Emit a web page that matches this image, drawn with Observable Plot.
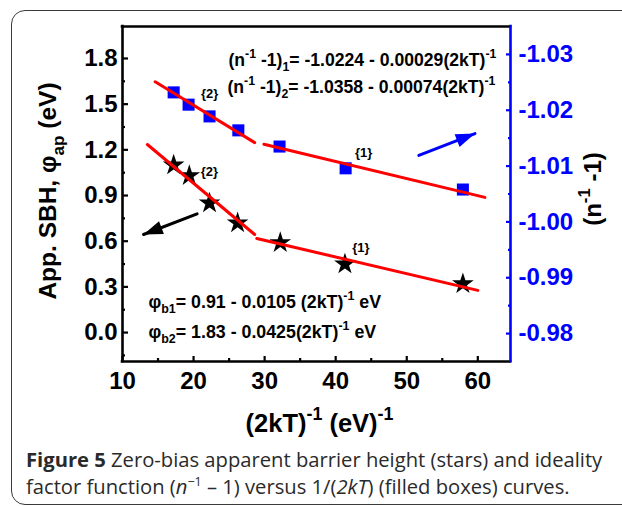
<!DOCTYPE html>
<html><head><meta charset="utf-8">
<script src="https://cdn.jsdelivr.net/npm/d3@7"></script>
<script src="https://cdn.jsdelivr.net/npm/@observablehq/plot@0.6"></script>
<style>
html,body{margin:0;padding:0;background:#fff;width:622px;height:506px;overflow:hidden;}
#wrap{position:relative;width:622px;height:506px;overflow:hidden;}
#border{position:absolute;left:11px;top:10px;width:680px;height:493px;border:1.5px solid #3a3a3a;border-radius:14px;}
#chart{position:absolute;left:0;top:0;}
#caption{position:absolute;left:26px;top:446px;font-family:"Open Sans",sans-serif;font-size:20.2px;line-height:27px;color:#2a2a2a;white-space:nowrap;}
#caption sup{font-size:12.5px;line-height:0;}
</style></head>
<body><div id="wrap"><div id="border"></div><div id="chart"></div>
<div id="caption"><b>Figure 5</b> Zero-bias apparent barrier height (stars) and ideality<br>factor function (<i>n</i><sup>−1</sup> – 1) versus 1/(<i>2kT</i>) (filled boxes) curves.</div></div>
<script>
// ---- data ----
const starX = [17.2, 19.4, 22.25, 26.2, 32.2, 41.3, 57.9];
const starSBH = [1.10, 1.03, 0.85, 0.72, 0.59, 0.45, 0.32];
const boxX = [17.2, 19.3, 22.25, 26.3, 32.1, 41.4, 57.9];
const boxN = [-1.0232, -1.0210, -1.0189, -1.0164, -1.0135, -1.0096, -1.0058];
// fitted red lines (end points)
const sbhFit1X = [28.9, 60.0], sbhFit1Y = [0.618, 0.277];
const sbhFit2X = [13.5, 28.6], sbhFit2Y = [1.235, 0.644];
const nFit1X = [29.9, 61.0], nFit1Y = [-1.0139, -1.0044];
const nFit2X = [14.6, 28.6], nFit2Y = [-1.0251, -1.0142];
// arrows: [start, tip]
const arrowSbhX = [20.5, 12.96], arrowSbhY = [0.78, 0.644];
const arrowNX = [51.7, 59.6], arrowNY = [1.163, 1.307];
// axes
const xDomain = [10, 64.6];
const yDomain = [-0.19, 2.01];
const nDomain = [-1.035, -0.975];
const xTicks = [10, 20, 30, 40, 50, 60];
const xMinor = [15, 25, 35, 45, 55];
const yTicks = [0.0, 0.3, 0.6, 0.9, 1.2, 1.5, 1.8];
const yMinor = [-0.15, 0.15, 0.45, 0.75, 1.05, 1.35, 1.65];
const nTicks = [-1.03, -1.02, -1.01, -1.00, -0.99, -0.98];
const nMinor = [-1.025, -1.015, -1.005, -0.995, -0.985];
const eqTop = ["(n^{-1} -1)_{1}= -1.0224 - 0.00029(2kT)^{-1}", "(n^{-1} -1)_{2}= -1.0358 - 0.00074(2kT)^{-1}"];
const eqBottom = ["φ_{b1}= 0.91 - 0.0105 (2kT)^{-1} eV", "φ_{b2}= 1.83 - 0.0425(2kT)^{-1} eV"];

// right axis value -> left axis units
const conv = d3.scaleLinear().domain(nDomain).range([yDomain[1], yDomain[0]]);
const BLUE = "#0000ff", RED = "#ff0000";
const FONT = "'Liberation Sans', Arial, sans-serif";

const head = {draw(ctx, size) { const r = Math.sqrt(size / Math.PI); const L = 2.4 * r, w = 0.85 * r;
  ctx.moveTo(0, 0); ctx.lineTo(w, L); ctx.lineTo(-w, L); ctx.closePath(); }};

const stars = starX.map((x, i) => ({x, y: starSBH[i]}));
const boxes = boxX.map((x, i) => ({x, y: conv(boxN[i])}));
const seg = (X, Y, f = d => d) => X.map((x, i) => ({x, y: f(Y[i])}));

const plot = Plot.plot({
  width: 622, height: 440,
  marginLeft: 122, marginRight: 112, marginTop: 26, marginBottom: 79,
  x: {domain: xDomain}, y: {domain: yDomain},
  style: {fontFamily: FONT, fontWeight: "bold", background: "transparent", overflow: "visible"},
  marks: [
    // axes
    Plot.axisX({ticks: xTicks, label: null, tickSize: -5, tickPadding: 15, tickFormat: d => String(d), fontSize: 24, strokeWidth: 2.2}),
    Plot.axisX({ticks: xMinor, label: null, tickSize: -3, tickFormat: () => "", strokeWidth: 2.2}),
    Plot.axisY({ticks: yTicks, label: null, tickSize: -6, tickPadding: 11, tickFormat: d => d.toFixed(1), fontSize: 24, strokeWidth: 2.2}),
    Plot.axisY({ticks: yMinor, label: null, tickSize: -3, tickFormat: () => "", strokeWidth: 2.2}),
    Plot.axisY({anchor: "right", label: null, ticks: nTicks.map(conv), tickSize: -5, tickPadding: 13, color: BLUE,
      tickFormat: d => conv.invert(d).toFixed(2), fontSize: 24, strokeWidth: 2.2}),
    Plot.axisY({anchor: "right", label: null, ticks: nMinor.map(conv), tickSize: -3, color: BLUE, tickFormat: () => "", strokeWidth: 2.2}),
    // frame lines
    Plot.ruleY([yDomain[1]], {stroke: "#000", strokeWidth: 2.6, strokeLinecap: "square"}),
    Plot.ruleY([yDomain[0]], {stroke: "#000", strokeWidth: 2.6, strokeLinecap: "square"}),
    Plot.ruleX([xDomain[0]], {stroke: "#000", strokeWidth: 2.6, strokeLinecap: "square"}),
    Plot.ruleX([xDomain[1]], {stroke: BLUE, strokeWidth: 2.6, strokeLinecap: "square"}),
    // data markers
    Plot.dot(boxes, {x: "x", y: "y", symbol: "square", r: 6.8, fill: BLUE}),
    Plot.dot(stars, {x: "x", y: "y", symbol: "star", r: 6.8, fill: "#000"}),
    // fit lines
    Plot.line(seg(sbhFit1X, sbhFit1Y), {x: "x", y: "y", stroke: RED, strokeWidth: 3}),
    Plot.line(seg(sbhFit2X, sbhFit2Y), {x: "x", y: "y", stroke: RED, strokeWidth: 3}),
    Plot.line(seg(nFit1X, nFit1Y, conv), {x: "x", y: "y", stroke: RED, strokeWidth: 3}),
    Plot.line(seg(nFit2X, nFit2Y, conv), {x: "x", y: "y", stroke: RED, strokeWidth: 3}),
    // arrows
    Plot.line(seg(arrowSbhX, arrowSbhY), {x: "x", y: "y", stroke: "#000", strokeWidth: 3}),
    Plot.dot([seg(arrowSbhX, arrowSbhY)[1]], {x: "x", y: "y", symbol: head, r: 8, fill: "#000", rotate: 249}),
    Plot.line(seg(arrowNX, arrowNY), {x: "x", y: "y", stroke: BLUE, strokeWidth: 3}),
    Plot.dot([seg(arrowNX, arrowNY)[1]], {x: "x", y: "y", symbol: head, r: 8, fill: BLUE, rotate: 68.6}),
    // point annotations
    Plot.text([boxes[1]], {x: "x", y: "y", text: () => "{2}", dx: 21, dy: -11, fontSize: 13}),
    Plot.text([stars[1]], {x: "x", y: "y", text: () => "{2}", dx: 20, dy: -4, fontSize: 13}),
    Plot.text([boxes[5]], {x: "x", y: "y", text: () => "{1}", dx: 18, dy: -15, fontSize: 13}),
    Plot.text([stars[5]], {x: "x", y: "y", text: () => "{1}", dx: 16, dy: -16, fontSize: 13}),
    // equations
    Plot.text([eqTop[0]], {frameAnchor: "top-left", textAnchor: "start", dx: 106, dy: 27, fontSize: 17.6}),
    Plot.text([eqTop[1]], {frameAnchor: "top-left", textAnchor: "start", dx: 105, dy: 54, fontSize: 17.6}),
    Plot.text([eqBottom[0]], {frameAnchor: "bottom-left", textAnchor: "start", dx: 26, dy: -54, fontSize: 17.8}),
    Plot.text([eqBottom[1]], {frameAnchor: "bottom-left", textAnchor: "start", dx: 26, dy: -24, fontSize: 17.8}),
    // axis titles
    Plot.text(["App. SBH, φ_{ap} (eV)"], {frameAnchor: "left", textAnchor: "middle", rotate: -90, dx: -74, dy: -3, fontSize: 24.5}),
    Plot.text(["(n^{-1} -1)"], {frameAnchor: "right", textAnchor: "middle", rotate: -90, dx: 83, dy: -5, fontSize: 24}),
    Plot.text(["(2kT)^{-1} (eV)^{-1}"], {frameAnchor: "bottom", textAnchor: "middle", dx: 3, dy: 70, fontSize: 25.5})
  ]
});
document.getElementById("chart").appendChild(plot);

// render ^{..} and _{..} as super/subscripts
plot.querySelectorAll("text").forEach(t => {
  const s = t.textContent;
  if (!/[\^_]\{/.test(s)) return;
  const fs = parseFloat(getComputedStyle(t).fontSize);
  const parts = []; const re = /([\^_])\{([^}]*)\}/g; let last = 0, m;
  while ((m = re.exec(s))) {
    if (m.index > last) parts.push([s.slice(last, m.index), 0]);
    parts.push([m[2], m[1] === "^" ? -1 : 1]); last = re.lastIndex;
  }
  if (last < s.length) parts.push([s.slice(last), 0]);
  while (t.firstChild) t.removeChild(t.firstChild);
  let cur = 0;
  for (const [txt, k] of parts) {
    const ts = document.createElementNS("http://www.w3.org/2000/svg", "tspan");
    const off = k < 0 ? -0.45 * fs : k > 0 ? 0.3 * fs : 0;
    ts.setAttribute("dy", off - cur); cur = off;
    if (k) ts.setAttribute("font-size", 0.7 * fs);
    ts.textContent = txt; t.appendChild(ts);
  }
});
</script>
</body></html>
